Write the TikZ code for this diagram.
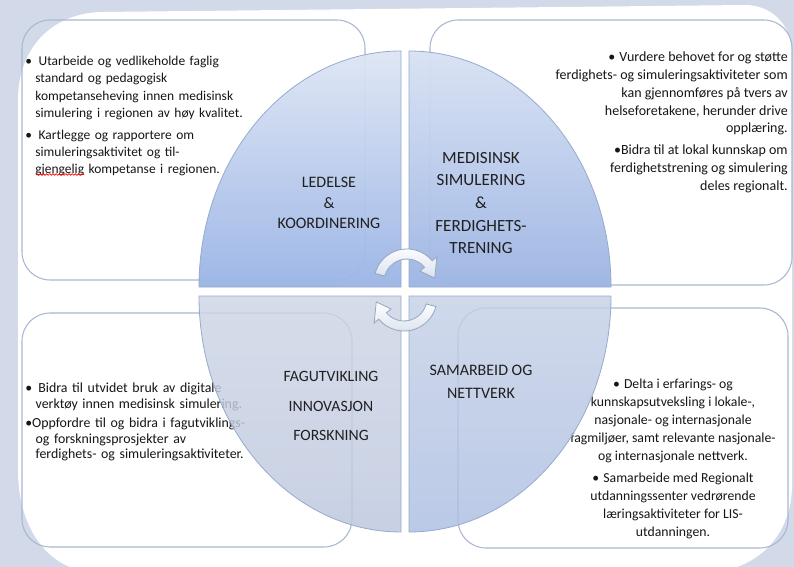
\documentclass[tikz,border=0pt]{standalone}
\usepackage{fontspec}
\setmainfont{Carlito}
\usetikzlibrary{decorations.pathmorphing}
\definecolor{bg}{RGB}{210,217,232}
\definecolor{boxline}{RGB}{168,184,210}
\definecolor{txt}{RGB}{22,22,22}
\definecolor{ttl}{RGB}{32,32,32}
\definecolor{tlTop}{RGB}{222,230,245}
\definecolor{tlBot}{RGB}{154,180,229}
\definecolor{trTop}{RGB}{216,226,244}
\definecolor{trBot}{RGB}{156,180,227}
\definecolor{blTop}{RGB}{206,213,229}
\definecolor{blBot}{RGB}{188,199,222}
\definecolor{brTop}{RGB}{198,209,231}
\definecolor{brBot}{RGB}{172,190,226}
\definecolor{quadline}{RGB}{150,170,205}
\definecolor{arrgrey}{RGB}{218,225,238}
\definecolor{arrline}{RGB}{150,165,192}
\newcommand{\hangpar}{\hangindent=0.75em\hangafter=1\relax}
\begin{document}
\begin{tikzpicture}[x=0.75pt,y=-0.75pt,
  boxframe/.style={draw=boxline, line width=0.8pt, rounded corners=21pt},
  quad/.style={draw=quadline, line width=0.6pt},
  bodytop/.style={font=\fontsize{10.1}{12.9}\selectfont, text=txt, inner sep=0pt},
  bodytr/.style={font=\fontsize{10.5}{13.3}\selectfont, text=txt, inner sep=0pt},
  bodybl/.style={font=\fontsize{10.4}{11.7}\selectfont, text=txt, inner sep=0pt},
  bodybr/.style={font=\fontsize{10.3}{13.5}\selectfont, text=txt, inner sep=0pt},
  titlenode/.style={text=ttl, align=center, inner sep=0pt},
  rotarrow/.style={top color=white, bottom color=arrgrey, draw=arrline, line width=0.6pt},
  squiggle/.style={draw=red, line width=0.5pt, decorate, decoration={snake, amplitude=0.6pt, segment length=2.4pt}}]
\useasboundingbox (0,0) rectangle (794,567);
% background
\fill[bg] (0,0) rectangle (794,567);
\fill[white] (18,100) .. controls (18,50) and (50,14) .. (100,12) -- (745,5)
  .. controls (772,5) and (792,25) .. (792,55) -- (792,485)
  .. controls (792,525) and (770,555) .. (737,567) -- (70,567)
  .. controls (40,555) and (18,520) .. (18,470) -- cycle;
% text boxes
\draw[boxframe] (22,20) rectangle (365,280);
\draw[boxframe] (430,20) rectangle (792,285);
\draw[boxframe] (22,313) rectangle (352,547);
\draw[boxframe] (458,308) rectangle (788,548);
% box texts
\node[bodytop, anchor=north west, text width=250pt, align=left] (tltext) at (25,56)
 {\parindent=0pt\hangpar •\hspace{0.5em}Utarbeide og vedlikeholde faglig\newline
  standard og pedagogisk\newline
  kompetanseheving innen medisinsk\newline
  simulering i regionen av høy kvalitet.\par\vspace{3.5pt}
  \hangpar •\hspace{0.5em}Kartlegge og rapportere om\newline
  simuleringsaktivitet og til-\newline
  gjengelig kompetanse i regionen.\par};
\draw[squiggle] (36,174.5) -- (84,174.5);
\node[bodytr, anchor=north east, align=right] (trtext) at (788,52)
 {•\hspace{0.3em}Vurdere behovet for og støtte\\
  ferdighets- og simuleringsaktiviteter som\\
  kan gjennomføres på tvers av\\
  helseforetakene, herunder drive\\
  opplæring.\\[3pt]
  •Bidra til at lokal kunnskap om\\
  ferdighetstrening og simulering\\
  deles regionalt.};
\node[bodybl, anchor=north west, text width=250pt, align=left] (bltext) at (25,383)
 {\parindent=0pt\hangpar •\hspace{0.45em}Bidra til utvidet bruk av digitale\newline
  verktøy innen medisinsk simulering.\par\vspace{2.5pt}
  \hangpar •Oppfordre til og bidra i fagutviklings-\newline
  og forskningsprosjekter av\newline
  ferdighets- og simuleringsaktiviteter.\par};
\node[bodybr, anchor=north, align=center] (brtext) at (673,379)
 {•\hspace{0.3em}Delta i erfarings- og\\
  kunnskapsutveksling i lokale-,\\
  nasjonale- og internasjonale\\
  fagmiljøer, samt relevante nasjonale-\\
  og internasjonale nettverk.\\[2.5pt]
  •\hspace{0.3em}Samarbeide med Regionalt\\
  utdanningssenter vedrørende\\
  læringsaktiviteter for LIS-\\
  utdanningen.};
% quadrants
\shade[quad, top color=tlTop, bottom color=tlBot, fill opacity=0.95]
  (401,287) -- (199,287) arc[start angle=180, end angle=270, x radius=202, y radius=236] -- cycle;
\shade[quad, top color=trTop, bottom color=trBot, fill opacity=0.95]
  (409,287) -- (409,51) arc[start angle=270, end angle=360, x radius=202, y radius=236] -- cycle;
\shade[quad, top color=brTop, bottom color=brBot, fill opacity=0.82]
  (409,296) -- (611,296) arc[start angle=0, end angle=90, x radius=202, y radius=236] -- cycle;
\shade[quad, top color=blTop, bottom color=blBot, fill opacity=0.82]
  (401,296) -- (401,532) arc[start angle=90, end angle=180, x radius=202, y radius=236] -- cycle;
% titles
\node[titlenode, font=\fontsize{12}{15.4}\selectfont] (tltitle) at (329,203)
  {LEDELSE\\\&\\KOORDINERING};
\node[titlenode, font=\fontsize{12.8}{16.9}\selectfont] (trtitle) at (481,203)
  {MEDISINSK\\SIMULERING\\\&\\FERDIGHETS-\\TRENING};
\node[titlenode, font=\fontsize{11.8}{21.8}\selectfont] (bltitle) at (331,406)
  {FAGUTVIKLING\\INNOVASJON\\FORSKNING};
\node[titlenode, font=\fontsize{12}{17.3}\selectfont] (brtitle) at (481,381.5)
  {SAMARBEID OG\\NETTVERK};
% circular arrows
\begin{scope}[shift={(407,282)}, yscale=-1]
  \shade[rotarrow] (165:33) arc[start angle=165, end angle=40, radius=33]
    -- (40:39) -- (8:28) -- (40:17) -- (40:23)
    arc[start angle=40, end angle=165, radius=23] -- cycle;
\end{scope}
\begin{scope}[shift={(404,298)}, yscale=-1, rotate=180]
  \shade[rotarrow] (165:33) arc[start angle=165, end angle=40, radius=33]
    -- (40:39) -- (8:28) -- (40:17) -- (40:23)
    arc[start angle=40, end angle=165, radius=23] -- cycle;
\end{scope}
\end{tikzpicture}
\end{document}
